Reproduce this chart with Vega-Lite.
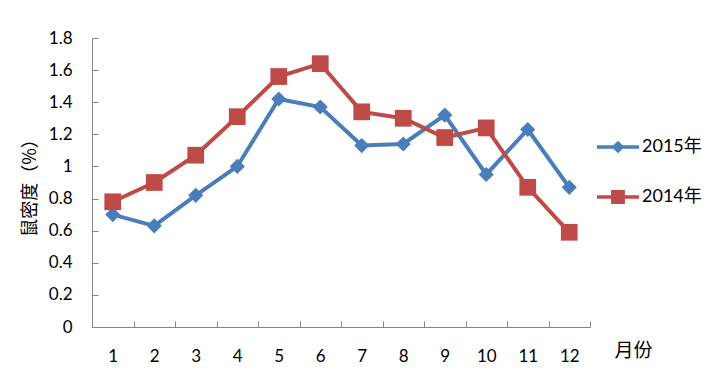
{
  "$schema": "https://vega.github.io/schema/vega-lite/v6.json",
  "width": 498,
  "height": 289,
  "autosize": {"type": "none"},
  "padding": {"left": 92, "top": 38, "right": 127, "bottom": 49},
  "background": "white",
  "config": {
    "view": {"stroke": null},
    "font": "Lato, Noto Sans CJK SC",
    "axis": {"grid": false, "domainColor": "#868686", "tickColor": "#868686", "labelColor": "#000000", "titleColor": "#000000", "labelFont": "Lato", "labelFontSize": 17, "titleFont": "Noto Sans CJK SC", "titleFontSize": 18, "titleFontWeight": "normal"}
  },
  "data": {
    "values": [
      {"month": 1, "series": "2015年", "value": 0.70},
      {"month": 2, "series": "2015年", "value": 0.63},
      {"month": 3, "series": "2015年", "value": 0.82},
      {"month": 4, "series": "2015年", "value": 1.00},
      {"month": 5, "series": "2015年", "value": 1.42},
      {"month": 6, "series": "2015年", "value": 1.37},
      {"month": 7, "series": "2015年", "value": 1.13},
      {"month": 8, "series": "2015年", "value": 1.14},
      {"month": 9, "series": "2015年", "value": 1.32},
      {"month": 10, "series": "2015年", "value": 0.95},
      {"month": 11, "series": "2015年", "value": 1.23},
      {"month": 12, "series": "2015年", "value": 0.87},
      {"month": 1, "series": "2014年", "value": 0.78},
      {"month": 2, "series": "2014年", "value": 0.90},
      {"month": 3, "series": "2014年", "value": 1.07},
      {"month": 4, "series": "2014年", "value": 1.31},
      {"month": 5, "series": "2014年", "value": 1.56},
      {"month": 6, "series": "2014年", "value": 1.64},
      {"month": 7, "series": "2014年", "value": 1.34},
      {"month": 8, "series": "2014年", "value": 1.30},
      {"month": 9, "series": "2014年", "value": 1.18},
      {"month": 10, "series": "2014年", "value": 1.24},
      {"month": 11, "series": "2014年", "value": 0.87},
      {"month": 12, "series": "2014年", "value": 0.59}
    ]
  },
  "encoding": {
    "x": {
      "field": "month", "type": "ordinal",
      "scale": {"type": "band", "paddingInner": 0, "paddingOuter": 0},
      "axis": {"labelAngle": 0, "tickBand": "extent", "tickSize": -6, "labelPadding": 27, "title": "月份", "titleX": 541, "titleY": 23, "titleAlign": "center", "titleBaseline": "middle", "titleFontSize": 19}
    },
    "y": {
      "field": "value", "type": "quantitative",
      "scale": {"domain": [0, 1.8], "nice": false},
      "axis": {"values": [0, 0.2, 0.4, 0.6, 0.8, 1, 1.2, 1.4, 1.6, 1.8], "format": ".1~f", "tickSize": -6, "labelPadding": 26, "title": "鼠密度（%）", "titleX": -62, "titleY": 145, "titleAlign": "center", "titleBaseline": "middle"}
    },
    "color": {
      "field": "series", "type": "nominal",
      "scale": {"domain": ["2015年", "2014年"], "range": ["#4A7EBB", "#BE4B48"]},
      "legend": {
        "title": null, "orient": "none", "legendX": 505, "legendY": 88,
        "rowPadding": 20, "labelOffset": 3, "labelFontSize": 18, "labelFont": "Lato, Noto Sans CJK SC", "labelColor": "#000000",
        "symbolSize": 1764, "symbolStrokeWidth": 0,
        "encode": {
          "symbols": {
            "update": {
              "shape": {"signal": "datum.value == '2015年' ? 'M-1,-0.08H-0.22L0,-0.3L0.22,-0.08H1V0.08H0.22L0,0.3L-0.22,0.08H-1Z' : 'M-1,-0.08H-0.33V-0.33H0.33V-0.08H1V0.08H0.33V0.33H-0.33V0.08H-1Z'"},
              "fill": {"signal": "datum.value == '2015年' ? '#4A7EBB' : '#BE4B48'"},
              "strokeWidth": {"value": 0},
              "size": {"value": 1764},
              "opacity": {"value": 1}
            }
          }
        }
      }
    }
  },
  "layer": [
    {"mark": {"type": "line", "strokeWidth": 4}},
    {
      "transform": [{"filter": "datum.series == '2015年'"}],
      "mark": {"type": "point", "shape": "diamond", "filled": true, "size": 230, "opacity": 1}
    },
    {
      "transform": [{"filter": "datum.series == '2014年'"}],
      "mark": {"type": "point", "shape": "square", "filled": true, "size": 280, "opacity": 1}
    }
  ]
}
